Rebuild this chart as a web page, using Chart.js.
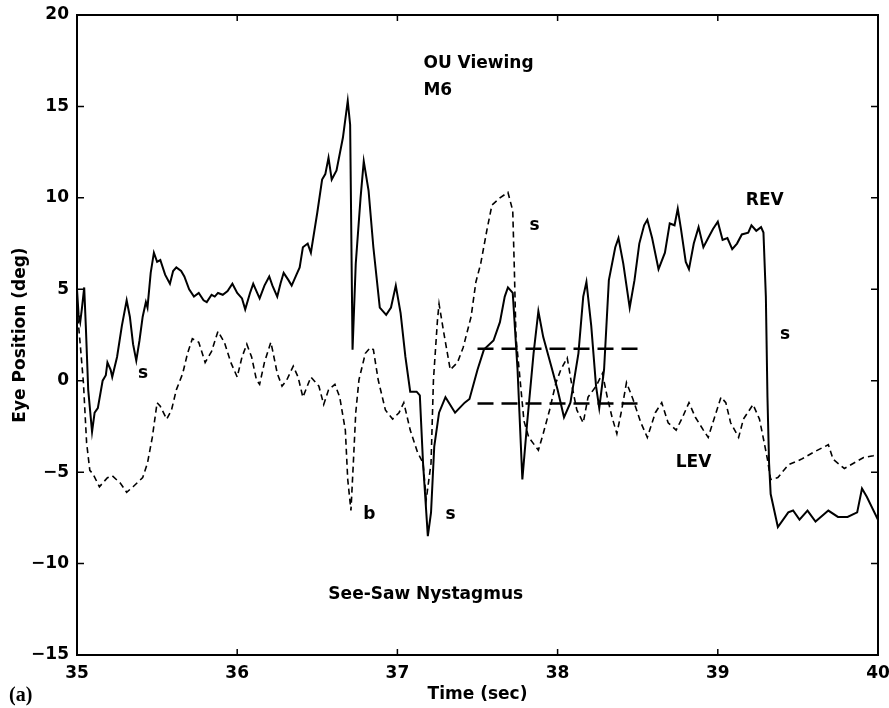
<!DOCTYPE html>
<html><head><meta charset="utf-8">
<script src="https://cdn.jsdelivr.net/npm/chart.js@4.4.1/dist/chart.umd.min.js"></script>
<style>html,body{margin:0;padding:0;background:#fff;}#wrap{width:889px;height:708px;position:relative;}</style>
</head><body><div id="wrap"><canvas id="c" width="889" height="708"></canvas></div>
<script>
// ---- data ----
const revTime = [35.000,35.010,35.020,35.030,35.045,35.055,35.070,35.094,35.110,35.130,35.160,35.180,35.190,35.210,35.220,35.250,35.280,35.310,35.330,35.350,35.370,35.390,35.410,35.430,35.440,35.460,35.480,35.500,35.520,35.550,35.580,35.600,35.620,35.650,35.670,35.700,35.730,35.760,35.790,35.810,35.840,35.860,35.880,35.910,35.940,35.970,36.000,36.030,36.050,36.080,36.100,36.120,36.140,36.170,36.200,36.220,36.250,36.270,36.290,36.320,36.340,36.370,36.390,36.410,36.440,36.460,36.500,36.530,36.550,36.570,36.590,36.620,36.660,36.690,36.705,36.720,36.740,36.770,36.790,36.820,36.850,36.890,36.930,36.960,36.990,37.020,37.050,37.080,37.120,37.140,37.160,37.190,37.210,37.230,37.260,37.300,37.360,37.420,37.450,37.500,37.540,37.600,37.640,37.670,37.690,37.720,37.750,37.780,37.810,37.850,37.880,37.910,37.960,38.000,38.040,38.080,38.130,38.160,38.180,38.210,38.240,38.260,38.290,38.320,38.360,38.380,38.410,38.450,38.480,38.510,38.540,38.560,38.590,38.630,38.670,38.700,38.730,38.750,38.770,38.800,38.820,38.850,38.880,38.910,38.940,38.970,39.000,39.030,39.060,39.090,39.120,39.150,39.190,39.210,39.240,39.270,39.285,39.300,39.310,39.320,39.330,39.375,39.440,39.470,39.510,39.560,39.610,39.690,39.750,39.810,39.870,39.900,39.930,40.000];
const revDeg = [5.0,3.6,3.2,3.9,5.1,3.0,-0.5,-2.8,-1.75,-1.5,0.0,0.3,1.0,0.6,0.2,1.3,3.0,4.4,3.5,2.0,1.1,2.2,3.5,4.3,4.0,5.9,7.0,6.5,6.6,5.8,5.3,6.0,6.2,6.0,5.7,5.0,4.6,4.8,4.4,4.3,4.7,4.6,4.8,4.7,4.9,5.3,4.8,4.5,3.9,4.8,5.3,4.9,4.5,5.2,5.7,5.2,4.6,5.3,5.9,5.5,5.2,5.8,6.2,7.3,7.5,7.0,9.2,11.0,11.3,12.2,11.0,11.5,13.3,15.3,14.0,1.7,6.4,10.0,12.0,10.4,7.3,4.0,3.6,4.0,5.2,3.7,1.3,-0.6,-0.6,-0.8,-4.5,-8.5,-7.2,-3.6,-1.75,-0.9,-1.75,-1.2,-1.0,0.6,1.7,2.2,3.2,4.6,5.1,4.8,0.6,-5.4,-2.3,1.5,3.8,2.4,0.8,-0.5,-2.0,-1.2,1.5,4.6,5.4,3.0,-0.3,-1.5,0.6,5.5,7.3,7.8,6.4,4.0,5.5,7.5,8.5,8.8,7.8,6.1,7.0,8.6,8.5,9.4,8.3,6.5,6.1,7.5,8.4,7.3,7.8,8.3,8.7,7.7,7.8,7.2,7.5,8.0,8.1,8.5,8.2,8.4,8.1,4.6,-0.9,-4.5,-6.2,-8.0,-7.2,-7.1,-7.6,-7.1,-7.7,-7.1,-7.45,-7.45,-7.2,-5.9,-6.35,-7.6];
const levTime = [35.000,35.020,35.040,35.060,35.080,35.100,35.140,35.190,35.220,35.270,35.310,35.350,35.410,35.440,35.470,35.500,35.520,35.560,35.590,35.620,35.660,35.690,35.720,35.760,35.800,35.840,35.880,35.920,35.960,36.000,36.030,36.060,36.090,36.120,36.140,36.170,36.210,36.220,36.250,36.280,36.310,36.350,36.380,36.410,36.460,36.510,36.540,36.570,36.610,36.640,36.675,36.690,36.710,36.725,36.740,36.760,36.800,36.830,36.850,36.880,36.925,36.970,37.010,37.040,37.080,37.125,37.160,37.180,37.210,37.225,37.250,37.260,37.290,37.330,37.375,37.410,37.460,37.490,37.520,37.560,37.590,37.640,37.690,37.720,37.730,37.740,37.760,37.790,37.820,37.880,37.910,37.950,37.990,38.020,38.060,38.090,38.120,38.160,38.190,38.240,38.280,38.310,38.340,38.370,38.400,38.430,38.470,38.520,38.560,38.610,38.650,38.690,38.740,38.780,38.820,38.860,38.910,38.940,38.980,39.020,39.050,39.080,39.130,39.160,39.220,39.260,39.290,39.310,39.330,39.375,39.440,39.520,39.600,39.690,39.720,39.790,39.850,39.910,39.970,40.000];
const levDeg = [4.0,2.0,-0.1,-3.4,-4.9,-5.1,-5.8,-5.3,-5.2,-5.6,-6.1,-5.8,-5.3,-4.5,-3.1,-1.2,-1.4,-2.1,-1.6,-0.5,0.4,1.5,2.3,2.1,1.0,1.6,2.7,2.1,1.0,0.2,1.3,2.0,1.3,0.05,-0.2,1.0,2.1,1.7,0.4,-0.3,0.05,0.8,0.2,-0.9,0.2,-0.3,-1.3,-0.5,-0.2,-0.9,-2.7,-5.4,-7.1,-4.5,-1.75,0.05,1.5,1.8,1.7,0.05,-1.6,-2.1,-1.75,-1.2,-2.7,-3.9,-4.5,-6.5,-4.5,0.05,3.3,4.2,2.6,0.6,1.0,1.8,3.5,5.4,6.4,8.3,9.6,10.0,10.3,9.3,6.1,2.4,0.6,-2.2,-3.1,-3.8,-2.9,-1.6,-0.1,0.6,1.25,-0.3,-1.6,-2.3,-0.9,-0.3,0.4,-0.9,-2.0,-2.9,-1.6,-0.1,-1.0,-2.3,-3.1,-1.75,-1.2,-2.3,-2.7,-2.0,-1.2,-2.0,-2.7,-3.1,-2.0,-0.9,-1.2,-2.3,-3.1,-2.1,-1.3,-2.1,-3.4,-4.3,-5.4,-5.3,-4.6,-4.3,-3.9,-3.5,-4.3,-4.8,-4.5,-4.2,-4.1,-4.0];
const refTime = [37.5, 38.5];
const refUpper = [1.75, 1.75];
const refLower = [-1.25, -1.25];
const xTicks = [35, 36, 37, 38, 39, 40];
const yTicks = [-15, -10, -5, 0, 5, 10, 15, 20];

const pts = (ts, vs) => ts.map((t, i) => ({x: t, y: vs[i]}));
const FONT = 'DejaVu Sans';

const notes = [
  {text: 'OU Viewing', t: 37.1625, v: 17.10},
  {text: 'M6', t: 37.1625, v: 15.63},
  {text: 'REV', t: 39.175, v: 9.61},
  {text: 's', t: 35.381, v: 0.15},
  {text: 's', t: 37.825, v: 8.245},
  {text: 's', t: 39.3875, v: 2.29},
  {text: 'LEV', t: 38.7375, v: -4.71},
  {text: 'b', t: 36.7875, v: -7.56},
  {text: 's', t: 37.30, v: -7.56},
  {text: 'See-Saw Nystagmus', t: 36.569, v: -11.93}
];

const frame = {
  id: 'frame',
  afterDatasetsDraw(chart) {
    const {ctx, chartArea: a, scales: {x, y}} = chart;
    ctx.save();
    ctx.strokeStyle = '#000';
    ctx.lineWidth = 2;
    ctx.strokeRect(a.left, a.top, a.right - a.left, a.bottom - a.top);
    ctx.lineWidth = 1.5;
    ctx.beginPath();
    xTicks.forEach(v => {
      const p = x.getPixelForValue(v);
      ctx.moveTo(p, a.bottom); ctx.lineTo(p, a.bottom - 6);
      ctx.moveTo(p, a.top); ctx.lineTo(p, a.top + 6);
    });
    yTicks.forEach(v => {
      const p = y.getPixelForValue(v);
      ctx.moveTo(a.left, p); ctx.lineTo(a.left + 7, p);
      ctx.moveTo(a.right, p); ctx.lineTo(a.right - 7, p);
    });
    ctx.stroke();
    ctx.fillStyle = '#000';
    ctx.textAlign = 'left';
    ctx.textBaseline = 'alphabetic';
    ctx.font = 'bold 17px "' + FONT + '"';
    notes.forEach(n => ctx.fillText(n.text, x.getPixelForValue(n.t), y.getPixelForValue(n.v)));
    ctx.font = 'bold 20px "Liberation Serif"';
    ctx.fillText('(a)', 9, 701);
    ctx.restore();
  }
};

new Chart(document.getElementById('c'), {
  type: 'line',
  data: {
    datasets: [
      {label: 'REV', data: pts(revTime, revDeg), borderColor: '#000', borderWidth: 2, pointRadius: 0, tension: 0, fill: false},
      {label: 'LEV', data: pts(levTime, levDeg), borderColor: '#000', borderWidth: 1.6, borderDash: [6, 4], pointRadius: 0, tension: 0, fill: false},
      {label: 'ref1', data: pts(refTime, refUpper), borderColor: '#000', borderWidth: 2.4, borderDash: [16, 8], pointRadius: 0, fill: false},
      {label: 'ref2', data: pts(refTime, refLower), borderColor: '#000', borderWidth: 2.4, borderDash: [16, 8], pointRadius: 0, fill: false}
    ]
  },
  options: {
    responsive: false,
    animation: false,
    devicePixelRatio: 1,
    layout: {padding: {left: 0, right: 11, top: 15, bottom: 0}},
    plugins: {legend: {display: false}, tooltip: {enabled: false}, title: {display: false}},
    scales: {
      x: {
        type: 'linear', position: 'bottom', min: 35, max: 40,
        afterBuildTicks: s => { s.ticks = xTicks.map(v => ({value: v})); },
        afterFit: s => { s.height = 53; s.paddingLeft = 0; s.paddingRight = 0; },
        grid: {display: false, drawTicks: false},
        border: {display: false},
        ticks: {padding: 8, color: '#000', font: {family: FONT, weight: 'bold', size: 17}, maxRotation: 0, autoSkip: false},
        title: {display: true, text: 'Time (sec)', color: '#000', font: {family: FONT, weight: 'bold', size: 17}, padding: {top: 0, bottom: 3}}
      },
      y: {
        type: 'linear', position: 'left', min: -15, max: 20,
        afterBuildTicks: s => { s.ticks = yTicks.map(v => ({value: v})); },
        afterFit: s => { s.width = 77; s.paddingTop = 0; s.paddingBottom = 0; },
        grid: {display: false, drawTicks: false},
        border: {display: false},
        ticks: {padding: 8, color: '#000', font: {family: FONT, weight: 'bold', size: 17}, autoSkip: false,
          callback: v => (v < 0 ? '\u2212' + Math.abs(v) : String(v))},
        title: {display: true, text: 'Eye Position (deg)', color: '#000', font: {family: FONT, weight: 'bold', size: 17}, padding: {top: 10, bottom: 0}}
      }
    }
  },
  plugins: [frame]
});
</script></body></html>
